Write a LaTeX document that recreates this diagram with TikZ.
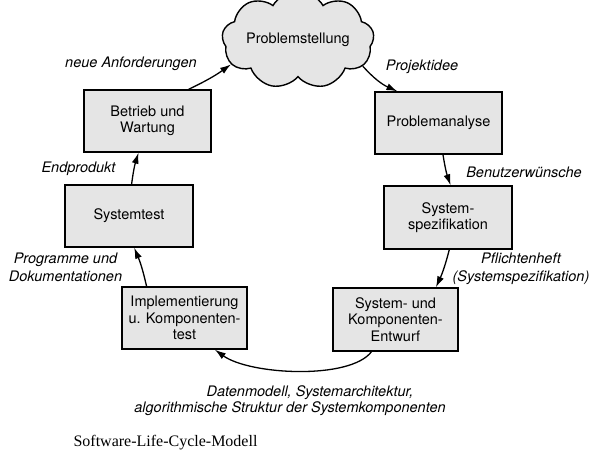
\documentclass[tikz,border=0pt]{standalone}
\usepackage{fontspec}
\setmainfont{TeX Gyre Heros}
\newfontfamily\capfont{Liberation Serif}
\usetikzlibrary{arrows.meta,shapes.symbols,calc}
\begin{document}
\begin{tikzpicture}[x=1pt,y=-1pt,
  box/.style={draw=black,line width=1.4pt,fill=black!10,minimum width=127pt,minimum height=62pt,align=center,inner sep=2pt,font=\fontsize{14.5}{16.5}\selectfont},
  lbl/.style={align=center,inner sep=0pt,font=\fontsize{14.5}{17.5}\selectfont\itshape},
  arr/.style={line width=1.3pt,-{Latex[length=11pt,width=7pt]}}]
\useasboundingbox (0,0) rectangle (589,452);
\node[cloud,cloud puffs=9,cloud puff arc=120,aspect=2.0,draw=black,line width=1.4pt,fill=black!10,minimum width=132pt,minimum height=66pt,inner sep=0pt,font=\fontsize{14.5}{16.5}\selectfont] (cloud) at (298,40) {\raisebox{-4pt}{Problemstellung}};
\node[box] (betrieb) at (147.5,121) {Betrieb und\\Wartung};
\node[box] (problem) at (438.5,123) {Problemanalyse};
\node[box,minimum width=128pt,minimum height=63pt] (spez) at (448,217.5) {System-\\spezifikation};
\node[box,minimum width=125pt,minimum height=63pt] (entwurf) at (395.5,319.5) {System- und\\Komponenten-\\Entwurf};
\node[box,minimum width=128pt] (systest) at (129,216) {Systemtest};
\node[box,minimum width=125pt] (impl) at (184.5,318) {Implementierung\\u. Komponenten-\\test};

\draw[arr] ($(betrieb.north west)!0.82!(betrieb.north east)$) to[bend right=5] (cloud.200);
\draw[arr] (cloud.-22) to[bend right=12] ($(problem.north west)!0.18!(problem.north east)$);
\draw[arr] ($(problem.south west)!0.535!(problem.south east)$) to[bend right=5] ($(spez.north west)!0.52!(spez.north east)$);
\draw[arr] ($(spez.south west)!0.51!(spez.south east)$) to[bend left=5] ($(entwurf.north west)!0.82!(entwurf.north east)$);
\draw[arr] ($(entwurf.south west)!0.31!(entwurf.south east)$) .. controls (350,380) and (250,375) .. ($(impl.south west)!0.74!(impl.south east)$);
\draw[arr] ($(impl.north west)!0.2!(impl.north east)$) to[bend right=5] ($(systest.south west)!0.54!(systest.south east)$);
\draw[arr] ($(systest.north west)!0.52!(systest.north east)$) to[bend left=5] ($(betrieb.south west)!0.43!(betrieb.south east)$);

\node[lbl] (l1) at (131,64) {neue Anforderungen};
\node[lbl] (l2) at (422,67) {Projektidee};
\node[lbl] (l3) at (524,172) {Benutzerwünsche};
\node[lbl] (l4) at (521,269) {Pflichtenheft\\(Systemspezifikation)};
\node[lbl] (l5) at (78.5,169) {Endprodukt};
\node[lbl] (l6) at (65.5,267.5) {Programme und\\Dokumentationen};
\node[lbl] (l7) at (310,393) {Datenmodell, Systemarchitektur,};
\node[lbl] (l8) at (290,409) {algorithmische Struktur der Systemkomponenten};
\node[inner sep=0pt,font=\capfont\fontsize{16}{19}\selectfont] (cap) at (165.5,443) {Software-Life-Cycle-Modell};
\end{tikzpicture}
\end{document}
